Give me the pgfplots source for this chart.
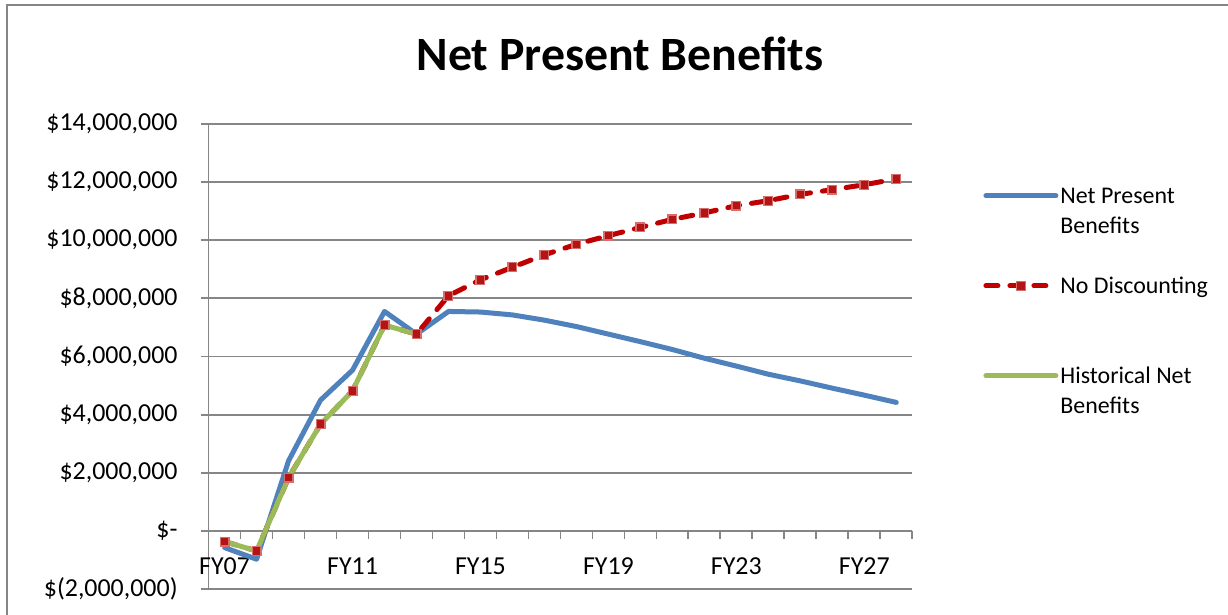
\documentclass[border=0pt]{standalone}
\usepackage{fontspec}
\setmainfont{Carlito}
\usepackage{pgfplots}
\usepackage{pgfplotstable}
\pgfplotsset{compat=1.18}
\usetikzlibrary{calc}

\definecolor{npbblue}{RGB}{79,129,189}
\definecolor{nodiscred}{RGB}{192,0,0}
\definecolor{histgreen}{RGB}{155,187,89}
\definecolor{gridgray}{RGB}{134,134,134}
\definecolor{markfill}{RGB}{180,20,20}
\definecolor{markdraw}{RGB}{215,110,110}

% x: 0 = FY07 ... 21 = FY28
\pgfplotstableread{
x y
0 -575000
1 -975000
2 2410000
3 4500000
4 5530000
5 7550000
6 6770000
7 7550000
8 7530000
9 7430000
10 7250000
11 7030000
12 6770000
13 6510000
14 6240000
15 5940000
16 5670000
17 5390000
18 5160000
19 4910000
20 4670000
21 4420000
}\npbdata

\pgfplotstableread{
x y
0 -368000
1 -690000
2 1830000
3 3670000
4 4820000
5 7080000
6 6770000
7 8090000
8 8640000
9 9070000
10 9500000
11 9860000
12 10160000
13 10440000
14 10720000
15 10940000
16 11190000
17 11360000
18 11580000
19 11740000
20 11910000
21 12110000
}\nodiscdata

\pgfplotstableread{
x y
0 -368000
1 -690000
2 1830000
3 3670000
4 4820000
5 7080000
6 6770000
}\histdata

\begin{document}
\begin{tikzpicture}
\begin{axis}[
    width=351.85bp, height=232.5bp, scale only axis,
    xmin=-0.5, xmax=21.5, ymin=-2000000, ymax=14000000,
    axis x line*=middle, axis y line*=left,
    axis line style={gridgray, line width=0.9bp},
    hide obscured x ticks=false, hide obscured y ticks=false,
    scaled y ticks=false,
    ytick={-2000000,0,2000000,4000000,6000000,8000000,10000000,12000000,14000000},
    yticklabels={{\$(2,000,000)},{\$-},{\$2,000,000},{\$4,000,000},{\$6,000,000},
                 {\$8,000,000},{\$10,000,000},{\$12,000,000},{\$14,000,000}},
    ymajorgrids, grid style={gridgray, line width=0.9bp},
    xtick={-0.5,0.5,...,21.5}, xticklabels={},
    extra x ticks={0,4,8,12,16,20},
    extra x tick labels={FY07,FY11,FY15,FY19,FY23,FY27},
    extra x tick style={tick style={draw=none},
        xticklabel style={yshift=-6bp}},
    tick align=outside, major tick length=4bp,
    tick style={gridgray, line width=0.9bp},
    tick label style={font=\fontsize{13}{15.6}\selectfont},
    yticklabel style={anchor=east, xshift=-8bp},
    clip=false,
    legend cell align=left,
    legend image code/.code={\draw[mark repeat=2,mark phase=2,#1]
        plot coordinates {(0bp,8.3bp)(17.5bp,8.3bp)(35bp,8.3bp)};},
    legend style={at={(rel axis cs:1.1005,0.8688)}, anchor=north west,
        draw=none, fill=none, inner sep=0pt, row sep=18bp, column sep=1bp,
        nodes={inner sep=0pt, text height=9bp, text depth=18bp,
               font=\fontsize{12}{15}\selectfont}},
]
\addplot[npbblue, line width=2.5bp, line join=round, line cap=round] table {\npbdata};
\addlegendentry{\begin{tabular}[t]{@{}l@{}}Net Present\\Benefits\end{tabular}}
\addplot[nodiscred, line width=2.5bp, line cap=round, dash pattern=on 6bp off 6bp,
    mark=square*, mark size=2.2bp,
    mark options={solid, fill=markfill, draw=markdraw, line width=0.6bp}] table {\nodiscdata};
\addlegendentry{No Discounting}
\addplot[histgreen, line width=2.5bp, line join=round, line cap=round] table {\histdata};
\addlegendentry{\begin{tabular}[t]{@{}l@{}}Historical Net\\Benefits\end{tabular}}
\node[anchor=base, font=\fontsize{24}{29}\selectfont\bfseries]
    at (rel axis cs:0.5846,1.116) {Net Present Benefits};
\end{axis}
\pgfresetboundingbox
\path[use as bounding box] ($(current axis.south west)+(-104.3bp,-13bp)$)
    rectangle ($(current axis.south west)+(509.7bp,294.5bp)$);
\draw[gridgray, line width=1bp] ($(current axis.south west)+(-100.8bp,-20bp)$)
    -- ($(current axis.south west)+(-100.8bp,292bp)$)
    -- ($(current axis.south west)+(520bp,292bp)$);
\end{tikzpicture}
\end{document}
